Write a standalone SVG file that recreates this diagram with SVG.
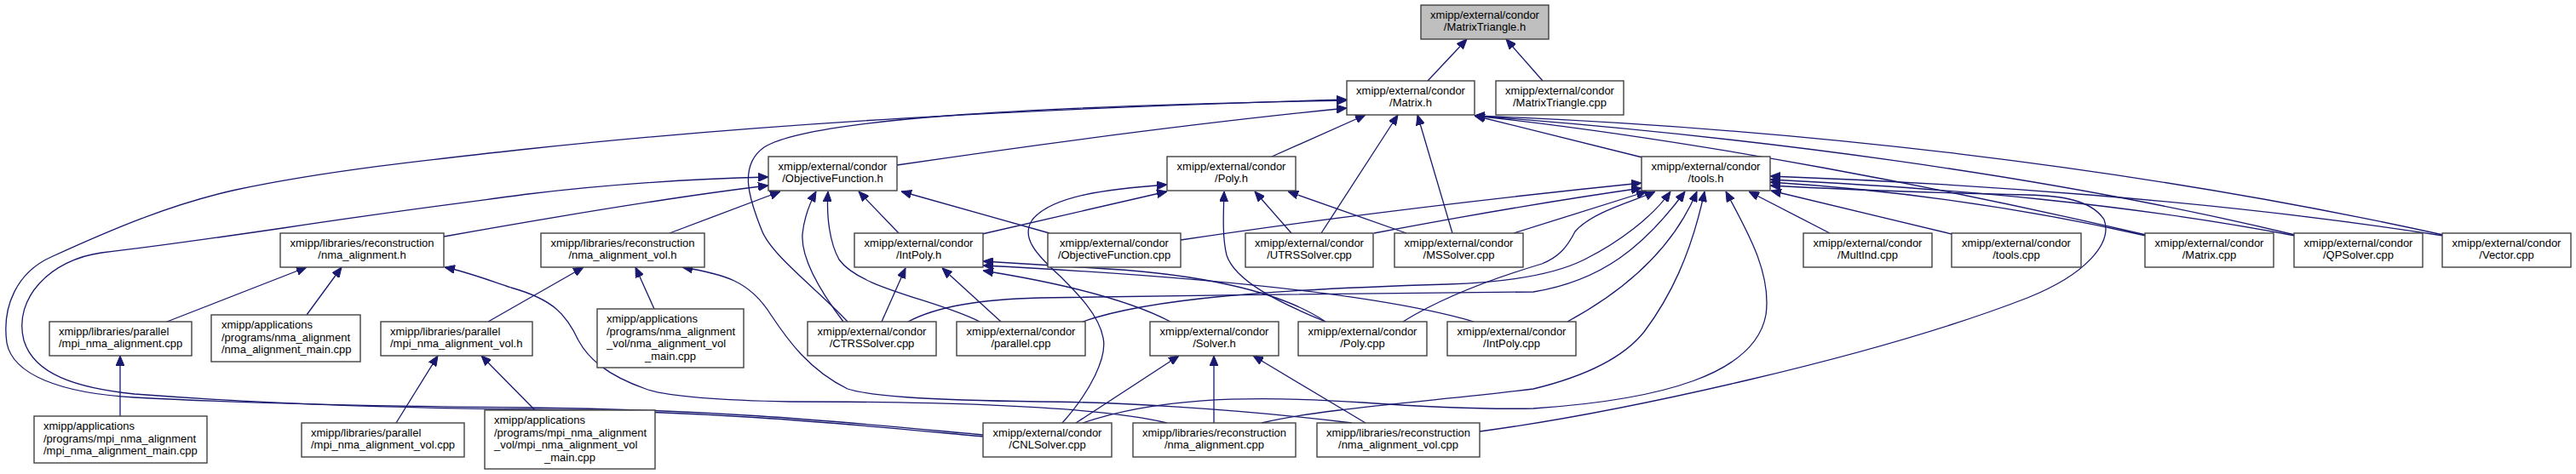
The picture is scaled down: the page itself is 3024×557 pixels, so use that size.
<svg xmlns="http://www.w3.org/2000/svg" width="3024" height="557" viewBox="0 0 3024 557">
<style>
rect.b{fill:#ffffff;stroke:#404040;stroke-width:1.4}
rect.g{fill:#bfbfbf;stroke:#404040;stroke-width:1.4}
text{font-family:"Liberation Sans",Arial,Helvetica,sans-serif;font-size:13px;fill:#000}
text.c{text-anchor:middle}
text.l{text-anchor:start}
#edges path{fill:none;stroke:#191970;stroke-width:1.3;marker-end:url(#ah)}
</style>
<defs>
<marker id="ah" markerWidth="12" markerHeight="10" refX="12" refY="5" orient="auto" markerUnits="userSpaceOnUse">
<path d="M0,0 L12,5 L0,10 z" fill="#191970" stroke="#191970" stroke-width="1"/>
</marker>
</defs>
<rect width="3024" height="557" fill="#ffffff"/>
<g id="edges">
<path d="M1676,95 L1722,46"/>
<path d="M1811,95 L1768,46"/>
<path d="M1154,511 C1000,497 850,481 620,479 C400,477 250,472 158,467 C70,462 15,440 8,403 C2,360 20,320 60,302 C130,270 200,240 277,223 C380,201 500,188 620,175 C900,145 1200,128 1581,117"/>
<path d="M1154,513 C1000,499 850,483 620,481 C400,479 250,470 158,463 C90,456 40,440 28,400 C15,350 60,305 119,297 C180,290 250,280 332,268 C450,250 530,240 620,228 C720,216 820,210 902,208"/>
<path d="M995,378 C960,340 905,300 894,270 C880,235 866,195 897,173 C950,140 1200,125 1581,118"/>
<path d="M1053,194 C1250,165 1450,140 1581,127"/>
<path d="M1493,184 L1603,135"/>
<path d="M1551,274 L1641,135"/>
<path d="M1705,274 L1664,135"/>
<path d="M1928,185 L1731,136"/>
<path d="M2519,276 C2300,225 2000,165 1731,136"/>
<path d="M2694,276 C2400,205 2050,160 1731,136"/>
<path d="M2868,276 C2500,195 2100,150 1731,136"/>
<path d="M521,278 C650,255 800,230 902,218"/>
<path d="M786,274 L916,225"/>
<path d="M990,378 C965,345 940,305 942,275 C944,255 950,240 958,225"/>
<path d="M1150,378 C1100,352 1010,340 985,305 C974,285 970,255 972,225"/>
<path d="M1055,274 L1008,225"/>
<path d="M1232,274 L1058,225"/>
<path d="M1247,497 C1280,460 1300,420 1295,397 C1290,370 1265,345 1245,325 C1215,298 1198,278 1212,258 C1235,230 1300,222 1370,217"/>
<path d="M1153,275 L1370,225"/>
<path d="M1556,378 C1500,355 1450,330 1440,300 C1435,280 1436,255 1437,225"/>
<path d="M1516,274 L1473,225"/>
<path d="M1651,274 L1512,225"/>
<path d="M1386,282 C1600,250 1800,228 1927,215"/>
<path d="M1613,274 C1750,248 1850,232 1927,221"/>
<path d="M1777,274 L1933,225"/>
<path d="M1647,378 C1700,345 1770,322 1810,310 C1830,302 1840,290 1849,272 C1870,248 1920,236 1943,225"/>
<path d="M1271,378 C1350,350 1500,340 1700,334 C1760,332 1820,325 1860,305 C1900,285 1940,255 1961,225"/>
<path d="M1066,378 C1100,360 1150,352 1220,350 C1400,346 1700,345 1800,343 C1880,330 1930,290 1978,225"/>
<path d="M1840,378 C1910,340 1965,290 1992,225"/>
<path d="M1481,497 C1550,480 1700,470 1800,457 C1870,440 1910,415 1930,390 C1960,350 1985,300 2001,225"/>
<path d="M1271,497 C1350,470 1450,463 1600,473 C1700,480 1750,481 1800,480 C1950,470 2060,440 2073,370 C2080,320 2050,270 2026,225"/>
<path d="M2148,274 L2053,225"/>
<path d="M2291,275 L2079,224"/>
<path d="M2519,277 C2400,250 2250,225 2078,214"/>
<path d="M2694,277 C2500,240 2300,222 2078,211"/>
<path d="M2868,277 C2600,235 2300,215 2078,207"/>
<path d="M1737,507 C1900,485 2200,420 2380,350 C2450,322 2480,285 2470,258 C2455,235 2420,230 2380,229 C2250,226 2150,222 2078,218"/>
<path d="M1374,378 C1330,355 1260,335 1154,318"/>
<path d="M1556,378 C1500,340 1400,322 1300,316 C1230,312 1190,309 1154,307"/>
<path d="M1730,378 C1600,340 1350,322 1154,312"/>
<path d="M1035,378 L1063,315"/>
<path d="M1175,378 L1106,315"/>
<path d="M1263,497 L1384,418"/>
<path d="M1425,497 L1425,418"/>
<path d="M1603,497 L1471,418"/>
<path d="M196,378 L360,314"/>
<path d="M360,370 L401,314"/>
<path d="M1370,497 C1300,480 1150,472 928,472 C830,470 780,465 758,457 C710,440 690,420 679,400 C665,370 650,352 600,338 C570,328 550,320 522,314"/>
<path d="M573,378 L685,314"/>
<path d="M768,363 L746,314"/>
<path d="M1587,497 C1450,480 1300,472 1220,472 C1080,470 1020,465 995,457 C950,435 925,400 905,370 C880,330 850,322 801,314"/>
<path d="M141,489 L141,418"/>
<path d="M465,497 L514,418"/>
<path d="M628,482 L565,418"/>
</g>
<g id="n-MatrixTriangle-h"><rect class="g" x="1668" y="6" width="150" height="40"/><text class="c" x="1743" y="21.5">xmipp/external/condor</text><text class="c" x="1743" y="36">/MatrixTriangle.h</text></g>
<g id="n-Matrix-h"><rect class="b" x="1581" y="95" width="150" height="40"/><text class="c" x="1656" y="110.5">xmipp/external/condor</text><text class="c" x="1656" y="125">/Matrix.h</text></g>
<g id="n-MatrixTriangle-cpp"><rect class="b" x="1756" y="95" width="150" height="40"/><text class="c" x="1831" y="110.5">xmipp/external/condor</text><text class="c" x="1831" y="125">/MatrixTriangle.cpp</text></g>
<g id="n-ObjectiveFunction-h"><rect class="b" x="902" y="184" width="151" height="40"/><text class="c" x="977.5" y="199.5">xmipp/external/condor</text><text class="c" x="977.5" y="214">/ObjectiveFunction.h</text></g>
<g id="n-Poly-h"><rect class="b" x="1370" y="184" width="151" height="40"/><text class="c" x="1445.5" y="199.5">xmipp/external/condor</text><text class="c" x="1445.5" y="214">/Poly.h</text></g>
<g id="n-tools-h"><rect class="b" x="1927" y="184" width="151" height="40"/><text class="c" x="2002.5" y="199.5">xmipp/external/condor</text><text class="c" x="2002.5" y="214">/tools.h</text></g>
<g id="n-nma_alignment-h"><rect class="b" x="329" y="274" width="192" height="40"/><text class="c" x="425" y="289.5">xmipp/libraries/reconstruction</text><text class="c" x="425" y="304">/nma_alignment.h</text></g>
<g id="n-nma_alignment_vol-h"><rect class="b" x="635" y="274" width="192" height="40"/><text class="c" x="731" y="289.5">xmipp/libraries/reconstruction</text><text class="c" x="731" y="304">/nma_alignment_vol.h</text></g>
<g id="n-IntPoly-h"><rect class="b" x="1003" y="274" width="151" height="40"/><text class="c" x="1078.5" y="289.5">xmipp/external/condor</text><text class="c" x="1078.5" y="304">/IntPoly.h</text></g>
<g id="n-ObjectiveFunction-cpp"><rect class="b" x="1230" y="274" width="156" height="40"/><text class="c" x="1308" y="289.5">xmipp/external/condor</text><text class="c" x="1308" y="304">/ObjectiveFunction.cpp</text></g>
<g id="n-UTRSSolver-cpp"><rect class="b" x="1462" y="274" width="150" height="40"/><text class="c" x="1537" y="289.5">xmipp/external/condor</text><text class="c" x="1537" y="304">/UTRSSolver.cpp</text></g>
<g id="n-MSSolver-cpp"><rect class="b" x="1637" y="274" width="151" height="40"/><text class="c" x="1712.5" y="289.5">xmipp/external/condor</text><text class="c" x="1712.5" y="304">/MSSolver.cpp</text></g>
<g id="n-MultInd-cpp"><rect class="b" x="2117" y="274" width="151" height="40"/><text class="c" x="2192.5" y="289.5">xmipp/external/condor</text><text class="c" x="2192.5" y="304">/MultInd.cpp</text></g>
<g id="n-tools-cpp"><rect class="b" x="2291" y="274" width="152" height="40"/><text class="c" x="2367" y="289.5">xmipp/external/condor</text><text class="c" x="2367" y="304">/tools.cpp</text></g>
<g id="n-Matrix-cpp"><rect class="b" x="2518" y="274" width="151" height="40"/><text class="c" x="2593.5" y="289.5">xmipp/external/condor</text><text class="c" x="2593.5" y="304">/Matrix.cpp</text></g>
<g id="n-QPSolver-cpp"><rect class="b" x="2693" y="274" width="151" height="40"/><text class="c" x="2768.5" y="289.5">xmipp/external/condor</text><text class="c" x="2768.5" y="304">/QPSolver.cpp</text></g>
<g id="n-Vector-cpp"><rect class="b" x="2867" y="274" width="151" height="40"/><text class="c" x="2942.5" y="289.5">xmipp/external/condor</text><text class="c" x="2942.5" y="304">/Vector.cpp</text></g>
<g id="n-mpi_nma_alignment-cpp"><rect class="b" x="58" y="378" width="167" height="40"/><text class="l" x="69" y="393.5">xmipp/libraries/parallel</text><text class="l" x="69" y="408">/mpi_nma_alignment.cpp</text></g>
<g id="n-nma_alignment_main-cpp"><rect class="b" x="248" y="370" width="175" height="55"/><text class="l" x="260" y="386">xmipp/applications</text><text class="l" x="260" y="400.5">/programs/nma_alignment</text><text class="l" x="260" y="415">/nma_alignment_main.cpp</text></g>
<g id="n-mpi_nma_alignment_vol-h"><rect class="b" x="447" y="378" width="178" height="40"/><text class="l" x="458" y="393.5">xmipp/libraries/parallel</text><text class="l" x="458" y="408">/mpi_nma_alignment_vol.h</text></g>
<g id="n-nma_alignment_vol_main-cpp"><rect class="b" x="701" y="363" width="172" height="69"/><text class="l" x="712" y="379">xmipp/applications</text><text class="l" x="712" y="393.5">/programs/nma_alignment</text><text class="l" x="712" y="408">_vol/nma_alignment_vol</text><text class="c" x="787" y="422.5">_main.cpp</text></g>
<g id="n-CTRSSolver-cpp"><rect class="b" x="948" y="378" width="151" height="40"/><text class="c" x="1023.5" y="393.5">xmipp/external/condor</text><text class="c" x="1023.5" y="408">/CTRSSolver.cpp</text></g>
<g id="n-parallel-cpp"><rect class="b" x="1123" y="378" width="151" height="40"/><text class="c" x="1198.5" y="393.5">xmipp/external/condor</text><text class="c" x="1198.5" y="408">/parallel.cpp</text></g>
<g id="n-Solver-h"><rect class="b" x="1350" y="378" width="151" height="40"/><text class="c" x="1425.5" y="393.5">xmipp/external/condor</text><text class="c" x="1425.5" y="408">/Solver.h</text></g>
<g id="n-Poly-cpp"><rect class="b" x="1524" y="378" width="151" height="40"/><text class="c" x="1599.5" y="393.5">xmipp/external/condor</text><text class="c" x="1599.5" y="408">/Poly.cpp</text></g>
<g id="n-IntPoly-cpp"><rect class="b" x="1699" y="378" width="151" height="40"/><text class="c" x="1774.5" y="393.5">xmipp/external/condor</text><text class="c" x="1774.5" y="408">/IntPoly.cpp</text></g>
<g id="n-mpi_nma_alignment_main-cpp"><rect class="b" x="40" y="489" width="203" height="55"/><text class="l" x="51" y="505">xmipp/applications</text><text class="l" x="51" y="519.5">/programs/mpi_nma_alignment</text><text class="l" x="51" y="534">/mpi_nma_alignment_main.cpp</text></g>
<g id="n-mpi_nma_alignment_vol-cpp"><rect class="b" x="354" y="497" width="191" height="40"/><text class="l" x="365" y="512.5">xmipp/libraries/parallel</text><text class="l" x="365" y="527">/mpi_nma_alignment_vol.cpp</text></g>
<g id="n-mpi_nma_alignment_vol_main-cpp"><rect class="b" x="569" y="482" width="200" height="69"/><text class="l" x="580" y="498">xmipp/applications</text><text class="l" x="580" y="512.5">/programs/mpi_nma_alignment</text><text class="l" x="580" y="527">_vol/mpi_nma_alignment_vol</text><text class="c" x="669" y="541.5">_main.cpp</text></g>
<g id="n-CNLSolver-cpp"><rect class="b" x="1154" y="497" width="151" height="40"/><text class="c" x="1229.5" y="512.5">xmipp/external/condor</text><text class="c" x="1229.5" y="527">/CNLSolver.cpp</text></g>
<g id="n-nma_alignment-cpp"><rect class="b" x="1330" y="497" width="191" height="40"/><text class="c" x="1425.5" y="512.5">xmipp/libraries/reconstruction</text><text class="c" x="1425.5" y="527">/nma_alignment.cpp</text></g>
<g id="n-nma_alignment_vol-cpp"><rect class="b" x="1546" y="497" width="191" height="40"/><text class="c" x="1641.5" y="512.5">xmipp/libraries/reconstruction</text><text class="c" x="1641.5" y="527">/nma_alignment_vol.cpp</text></g>
</svg>
